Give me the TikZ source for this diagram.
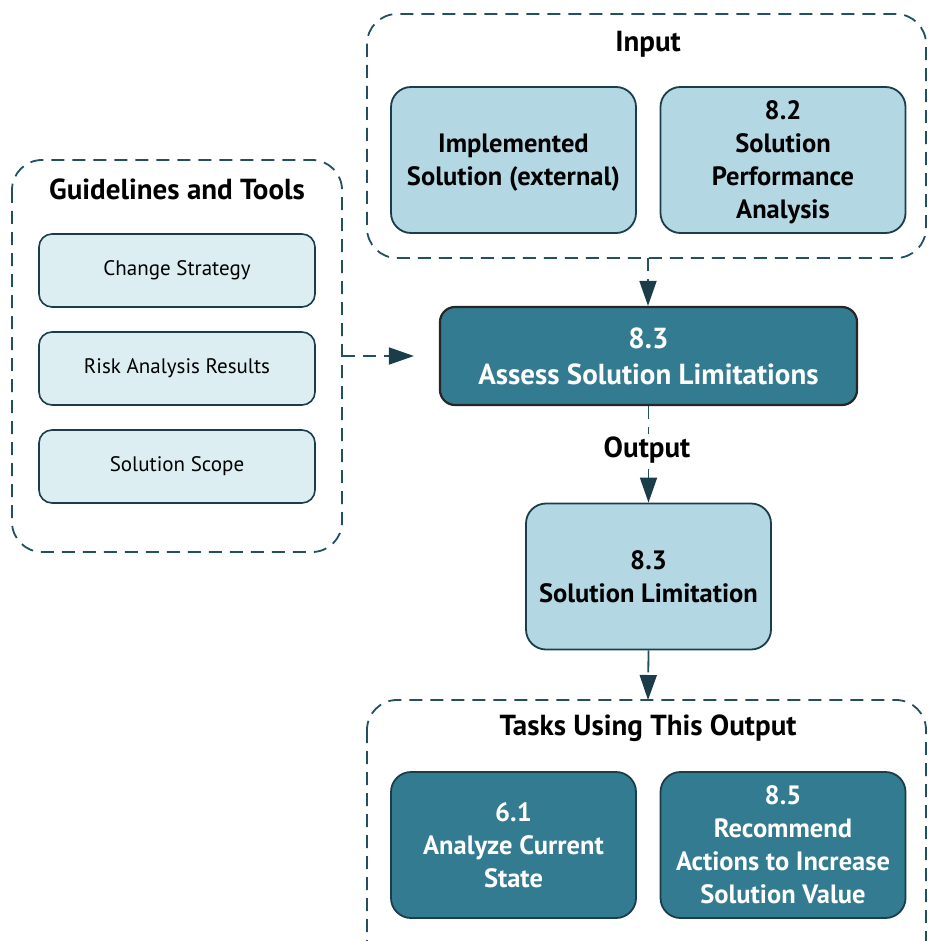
\documentclass[tikz,border=0pt]{standalone}
\usepackage{fontspec}
\setmainfont{PT Sans}
\usetikzlibrary{arrows.meta}
\definecolor{lightbox}{HTML}{B3D8E4}
\definecolor{palebox}{HTML}{DDEEF3}
\definecolor{tealbox}{HTML}{337B91}
\definecolor{edgecol}{HTML}{1B3D4A}
\definecolor{dashcol}{HTML}{22505F}
\begin{document}
\begin{tikzpicture}[x=1pt,y=-1pt,
  container/.style={draw=dashcol, line width=1.8pt, dash pattern=on 13pt off 8pt, rounded corners=30pt},
  inbox/.style={draw=edgecol, line width=1.8pt, fill=lightbox, rounded corners=20pt, align=center,
    minimum width=245pt, minimum height=146pt, inner sep=0pt, text depth=0pt,
    font=\fontsize{26.5}{33}\selectfont\bfseries},
  guidebox/.style={draw=edgecol, line width=1.6pt, fill=palebox, rounded corners=13pt, align=center,
    minimum width=276pt, minimum height=73pt, inner sep=0pt,
    font=\fontsize{21}{26}\selectfont},
  taskbox/.style={draw=edgecol, line width=1.8pt, fill=tealbox, text=white, rounded corners=20pt, align=center,
    minimum width=245pt, minimum height=146pt, inner sep=0pt, text depth=0pt,
    font=\fontsize{26.5}{33}\selectfont\bfseries},
  mainbox/.style={draw=black!85, line width=2.2pt, fill=tealbox, text=white, rounded corners=15pt, align=center,
    minimum width=417pt, minimum height=98pt, inner sep=0pt,
    font=\fontsize{29}{36}\selectfont\bfseries},
  title/.style={font=\fontsize{29}{32}\selectfont\bfseries, inner sep=1pt},
  conn/.style={draw=dashcol, line width=1.8pt, dash pattern=on 13pt off 8pt,
    -{Triangle[length=25pt,width=17pt,fill=edgecol,color=edgecol]}},
]
\useasboundingbox (0,0) rectangle (927,941);
\clip (0,0) rectangle (927,941);

% containers
\draw[container] (367,14) rectangle (926,258);
\coordinate (inC) at (648,258);
\draw[container] (12,160) rectangle (342,552);
\coordinate (guideC) at (342,356);
\draw[container] (367,700) rectangle (926,980);
\coordinate (taskC) at (648,700);

% titles
\node[title] (tin) at (648,44) {Input};
\node[title] (tguide) at (177,189) {Guidelines and Tools};
\node[title] (ttask) at (648,728) {Tasks Using This Output};

% input boxes
\node[inbox] (impl) at (513.5,160) {Implemented\\Solution (external)};
\node[inbox] (spa) at (783,160) {8.2\\Solution\\Performance\\Analysis};

% guideline boxes
\node[guidebox] (cs) at (177,270.5) {Change Strategy};
\node[guidebox] (rar) at (177,368.5) {Risk Analysis Results};
\node[guidebox] (ss) at (177,466.5) {Solution Scope};

% main
\node[mainbox] (main) at (648.5,356) {8.3\\Assess Solution Limitations};

% output
\node[inbox] (sl) at (648.5,576.5) {8.3\\Solution Limitation};

% tasks
\node[taskbox] (acs) at (513.5,845) {6.1\\Analyze Current\\State};
\node[taskbox] (rai) at (783,845) {8.5\\Recommend\\Actions to Increase\\Solution Value};

% connectors
\draw[conn] (inC) -- (inC |- main.north);
\draw[conn, shorten >=25pt] (guideC) -- (main.west);
\draw[conn] (main.south -| sl.north) -- (sl.north);
\node[title, fill=white, inner sep=3pt] (outlbl) at (647,450) {Output};
\draw[conn, dash pattern=on 22pt off 8pt] (sl.south) -- (taskC);
\end{tikzpicture}
\end{document}
